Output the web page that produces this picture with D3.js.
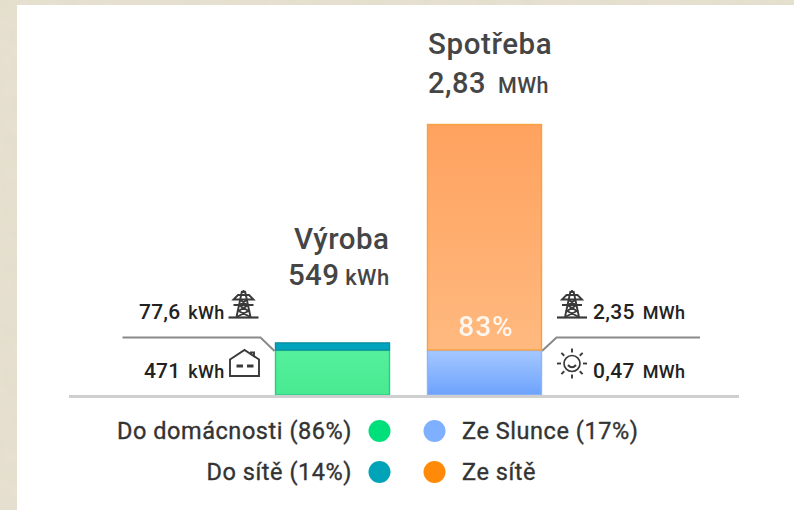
<!DOCTYPE html>
<html><head><meta charset="utf-8">
<script src="https://cdn.jsdelivr.net/npm/d3@7"></script>
<style>html,body{margin:0;padding:0;background:#fff}svg{display:block}text{font-family:Roboto,sans-serif;fill:#454545}</style>
</head><body><svg id="c" width="794" height="510"></svg>
<script>
const barNames = ["Výroba","Spotřeba"];
const vyrobaSegments = [471, 78];
const spotrebaSegments = [470, 2360];
const segmentColors = {vyroba:["url(#gG)","#00a5bd"], spotreba:["url(#gB)","url(#gO)"]};
const segmentStrokes = {vyroba:["#2cc98c","#0a8ea3"], spotreba:["#8db4fa","#f8a23f"]};
const legendLeft = ["Do domácnosti (86%)","Do sítě (14%)"];
const legendRight = ["Ze Slunce (17%)","Ze sítě"];
const legendLeftColors = ["#00e07a","#00a3b8"];
const legendRightColors = ["#7fb0ff","#ff8a0a"];

const svg = d3.select("#c");
const defs = svg.append("defs");
function grad(id, a, b){
  const g = defs.append("linearGradient").attr("id",id).attr("x1",0).attr("x2",0).attr("y1",0).attr("y2",1);
  g.append("stop").attr("offset",0).attr("stop-color",a);
  g.append("stop").attr("offset",1).attr("stop-color",b);
}
grad("gG","#55f09c","#48ea90");
grad("gB","#a5c8ff","#6da2fc");
grad("gO","#ffa25f","#ffb97f");
const f = defs.append("filter").attr("id","paper").attr("x",0).attr("y",0).attr("width","100%").attr("height","100%");
f.append("feTurbulence").attr("type","fractalNoise").attr("baseFrequency",0.05).attr("numOctaves",3).attr("seed",4);
f.append("feColorMatrix").attr("values","0 0 0 0 0.76  0 0 0 0 0.72  0 0 0 0 0.60  1.4 0 0 0 -0.45");
f.append("feComposite").attr("in2","SourceGraphic").attr("operator","over");

svg.append("rect").attr("width",794).attr("height",510).attr("fill","#e6e0d0").attr("filter","url(#paper)");
svg.append("rect").attr("x",17).attr("y",5).attr("width",777).attr("height",505).attr("fill","#fff");

const y = d3.scaleLinear().domain([0,2830]).range([395,124]);
const barW = 115;
const xScale = d3.scalePoint().domain(barNames).range([275,427]);

function stack(name, vals, cols, strokes){
  let acc = 0;
  vals.forEach((v,i)=>{
    const y1 = y(acc+v), y0 = y(acc);
    svg.append("rect").attr("x",xScale(name)+0.5).attr("width",barW-1)
      .attr("y",y1+0.5).attr("height",y0-y1-0.5)
      .attr("fill",cols[i]).attr("stroke",strokes[i]).attr("stroke-width",1.4);
    acc += v;
  });
}

const lineGen = d3.line();
svg.append("path").attr("d",lineGen([[122.5,337.5],[260.5,337.5],[274.5,351]])).attr("fill","none").attr("stroke","#8a8a8a").attr("stroke-width",2);
svg.append("path").attr("d",lineGen([[542,351],[556.5,337.5],[700,337.5]])).attr("fill","none").attr("stroke","#8a8a8a").attr("stroke-width",2);

stack("Výroba", vyrobaSegments, segmentColors.vyroba, segmentStrokes.vyroba);
stack("Spotřeba", spotrebaSegments, segmentColors.spotreba, segmentStrokes.spotreba);

svg.append("line").attr("x1",69).attr("x2",739).attr("y1",396.5).attr("y2",396.5).attr("stroke","#cfcfcf").attr("stroke-width",3);

function label(xp, yp, parts, anchor, fill){
  const t = svg.append("text").attr("x",xp).attr("y",yp).attr("text-anchor",anchor||"start");
  parts.forEach(p=>{
    const s = t.append("tspan").text(p[0]).style("font-size",p[1]+"px").style("font-weight",p[2]||400).style("letter-spacing",(p[4]||0)+"px");
    if(p[3]) s.attr("dx",p[3]);
    if(fill) s.style("fill",fill);
  });
  return t;
}
label(428,54,[["Spotřeba",29.5,500,0,0.6]]);
label(428,93,[["2,83",29,500,0,0.5],["MWh",21.5,500,12,0.4]]);
label(389.5,249,[["Výroba",29.5,500,0,0.5]],"end");
label(389.5,285,[["549",29.5,500,0,0.3],["kWh",22,500,6,0.4]],"end");
label(224.5,319,[["77,6",21,500,0,0.2],["kWh",18,500,8,0.3]],"end","#222");
label(224.5,378,[["471",21,500,0,0.2],["kWh",18,500,8,0.3]],"end","#222");
label(593,319,[["2,35",21,500,0,0.3],["MWh",18,500,8,0.3]],"start","#222");
label(593,378,[["0,47",21,500,0,0.3],["MWh",18,500,8,0.3]],"start","#222");
label(486,336,[["83%",28,500,0,1]],"middle","#ffffff").style("opacity",0.88);

function pylon(cx){
  const g = svg.append("g").attr("transform",`translate(${cx},290)`).attr("fill","none").attr("stroke","#3a3a3a").attr("stroke-width",1.9);
  g.append("path").attr("d","M-15 27.5H15").attr("stroke-width",2.2);
  g.append("path").attr("d","M-1.5 1L-7 27M1.5 1L7 27M0 0V3");
  g.append("path").attr("d","M-10 9.5H10L5.5 5H-5.5ZM-10 15H10M-5 15L5 21L-7 27M5 15L-5 21L7 27M-4 9.5L4 15M4 9.5L-4 15");
}
pylon(243.5); pylon(572);
const h = svg.append("g").attr("transform","translate(229,349)").attr("fill","none").attr("stroke","#3a3a3a").attr("stroke-width",1.9);
h.append("path").attr("d","M1 10.5L15.5 1L30 10.5V27H1Z");
h.append("path").attr("d","M22 6V3.5H25V8");
h.append("path").attr("d","M7.5 17H14M18 17H24.5").attr("stroke-width",3);
const su = svg.append("g").attr("transform","translate(572,363.5)").attr("fill","none").attr("stroke","#3a3a3a").attr("stroke-width",1.7);
su.append("circle").attr("r",8);
su.append("path").attr("d","M-4 1.5Q0 6 4 1.5").attr("stroke-width",2);
d3.range(8).forEach(i=>{ su.append("line").attr("y1",-11).attr("y2",-15).attr("stroke-width",1.9).attr("transform",`rotate(${i*45})`); });

const legendY = [431,472];
legendLeft.forEach((d,i)=>{
  svg.append("text").attr("x",352).attr("y",legendY[i]+7.5).attr("text-anchor","end").style("font-size","23.5px").style("font-weight",400).style("letter-spacing","0.55px").style("fill","#333").style("stroke","#333").style("stroke-width","0.35px").text(d);
  svg.append("circle").attr("cx",379.5).attr("cy",legendY[i]).attr("r",11).attr("fill",legendLeftColors[i]);
});
legendRight.forEach((d,i)=>{
  svg.append("text").attr("x",462).attr("y",legendY[i]+7.5).style("font-size","23.5px").style("font-weight",400).style("letter-spacing","0.55px").style("fill","#333").style("stroke","#333").style("stroke-width","0.35px").text(d);
  svg.append("circle").attr("cx",434.5).attr("cy",legendY[i]).attr("r",11).attr("fill",legendRightColors[i]);
});
</script></body></html>
